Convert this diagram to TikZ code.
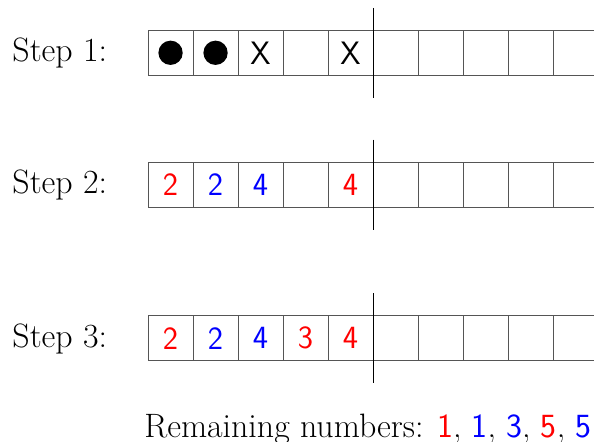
\documentclass[tikz,border=0pt]{standalone}
\usepackage{xcolor}
\usepackage{tikz}
\usetikzlibrary{positioning,calc}
\definecolor{sqRed}{HTML}{FF0000}
\definecolor{sqBlue}{HTML}{0000FF}
\definecolor{sqGray}{HTML}{555555}
\tikzset{
  sq-big/.style={font=\fontsize{21.4pt}{25pt}\selectfont},
  sq-cell/.style={
    draw=sqGray, line width=0.6pt, minimum size=1cm,
    inner sep=0pt, outer sep=0pt
  },
  sq-num/.style={font=\fontsize{20.5pt}{24pt}\selectfont\sffamily,
    inner sep=0pt},
  sq-red/.style={sq-num, text=sqRed},
  sq-blue/.style={sq-num, text=sqBlue},
  sq-dot/.style={circle, fill=black, minimum size=5.4mm, inner sep=0pt},
  sq-step/.style={sq-big, anchor=base west, inner sep=0pt},
  sq-split/.style={line width=0.7pt, draw=black}
}

\begin{document}
\begin{tikzpicture}
\useasboundingbox (0,0) rectangle (13.2,9.8);

% three rows of ten cells
\foreach \r/\y in {1/8.627, 2/5.7, 3/2.284}
  \foreach \i in {1,...,10}
    \node[sq-cell] (s\r-\i) at ({3.29+\i-0.5},\y) {};

\node[sq-step] (lab1) at (0.27,8.427) {Step 1:};
\node[sq-step] (lab2) at (0.27,5.5) {Step 2:};
\node[sq-step] (lab3) at (0.27,2.084) {Step 3:};

% step 1
\node[sq-dot] (d1-1) at (s1-1) {};
\node[sq-dot] (d1-2) at (s1-2) {};
\node[sq-num] (n1-3) at (s1-3) {X};
\node[sq-num] (n1-5) at (s1-5) {X};

% step 2
\node[sq-red]  (n2-1) at (s2-1) {2};
\node[sq-blue] (n2-2) at (s2-2) {2};
\node[sq-blue] (n2-3) at (s2-3) {4};
\node[sq-red]  (n2-5) at (s2-5) {4};

% step 3
\node[sq-red]  (n3-1) at (s3-1) {2};
\node[sq-blue] (n3-2) at (s3-2) {2};
\node[sq-blue] (n3-3) at (s3-3) {4};
\node[sq-red]  (n3-4) at (s3-4) {3};
\node[sq-red]  (n3-5) at (s3-5) {4};

\foreach \r in {1,2,3}
  \draw[sq-split] ([yshift=5mm]s\r-5.north east)
    -- ([yshift=-5mm]s\r-5.south east);

\node[sq-step] (rest) at (3.2,0.07) {Remaining numbers:
  \textsf{\color{sqRed}1}, \textsf{\color{sqBlue}1},
  \textsf{\color{sqBlue}3}, \textsf{\color{sqRed}5},
  \textsf{\color{sqBlue}5}};
\end{tikzpicture}
\end{document}
